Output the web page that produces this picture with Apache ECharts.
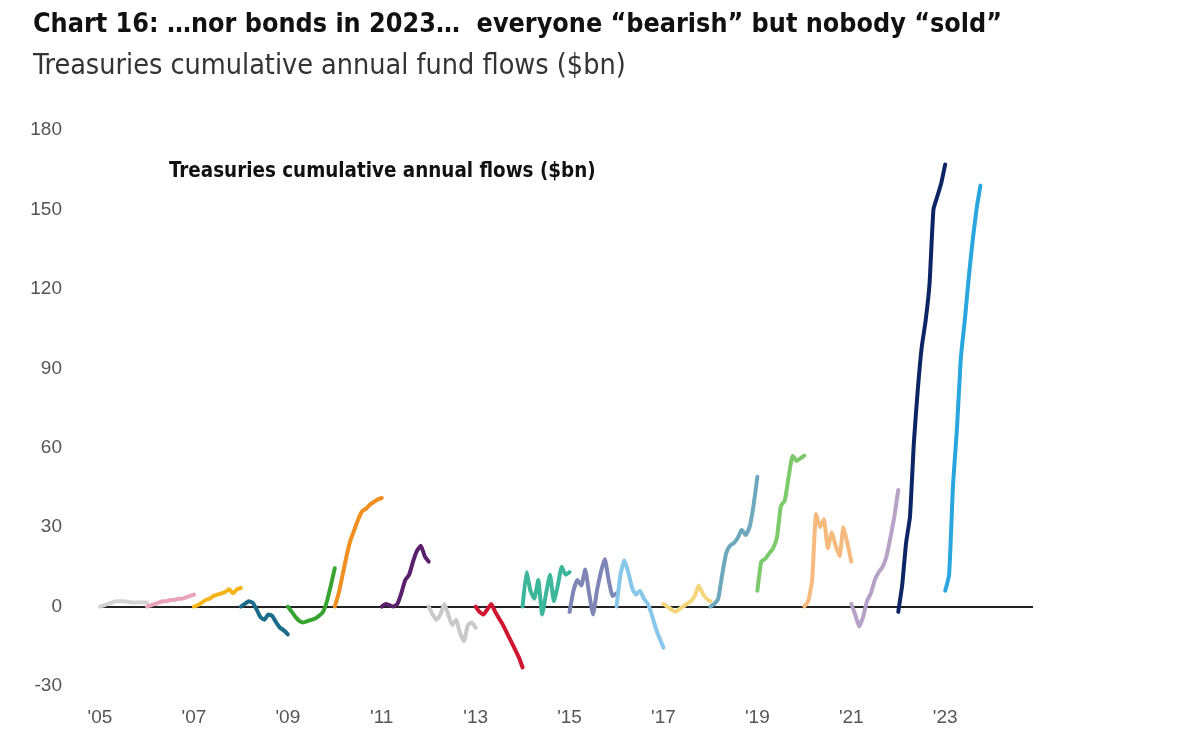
<!DOCTYPE html>
<html>
	<head>
		<meta charset="UTF-8">
		<title>Treasuries cumulative annual fund flows</title>
		<script src="https://cdn.jsdelivr.net/npm/echarts@6/dist/echarts.min.js"></script>
		<style>
			html, body { margin: 0; padding: 0; background: #fff; }
			#main { width: 1200px; height: 745px; }
		</style>
	</head>
	<body>
		<div id="main"></div>
		<script type="text/javascript">
			// cumulative flows within each calendar year, $bn, roughly monthly readings
			var flows2005 = [0, 0.5, 1, 1.5, 2, 2, 2, 1.8, 1.5, 1.5, 1.6, 1.5, 1.5];
			var flows2006 = [0, 0.5, 1, 1.5, 2, 2, 2.5, 2.5, 3, 3, 3.5, 4, 4.5];
			var flows2007 = [0, 0.5, 1.5, 2.5, 3, 4, 4.5, 5, 5.5, 6.5, 5, 6.5, 7];
			var flows2008 = [0, 1, 2, 1.5, -1, -4, -5, -3, -3.5, -6, -8, -9, -10.5];
			var flows2009 = [0, -2, -4, -5.5, -6, -5.5, -5, -4.5, -3.5, -2, 2, 8, 14.5];
			var flows2010 = [0, 5, 12, 19, 25, 29, 33, 36, 37, 38.5, 39.5, 40.5, 41];
			var flows2011 = [0, 1, 0.5, 0, 1, 5, 10, 12, 17, 21, 23, 19, 17];
			var flows2012 = [0, -3, -5, -3, 1, -3, -7, -5, -10, -13, -7, -6, -8];
			var flows2013 = [0, -2, -3, -1, 1, -2, -4.5, -7, -10, -13, -16, -19, -23];
			var flows2014 = [0, 13, 6, 3, 10, -3, 5, 12, 2, 8, 15, 12, 13];
			var flows2015 = [-2, 6, 10, 8, 14, 5, -3, 6, 13, 18, 10, 4, 5];
			var flows2016 = [0, 12, 17.5, 13, 7, 4.5, 6, 3, 1, -3, -8, -12, -15.5];
			var flows2017 = [1, 0, -1, -2, -1, 0, 1, 2, 4, 8, 5, 3, 2];
			var flows2018 = [0, 1, 3, 12, 20, 23, 24, 26, 29, 27, 30, 38, 49];
			var flows2019 = [6, 17, 18, 20, 22, 26, 38, 40, 49, 57, 55, 56, 57];
			var flows2020 = [0, 2, 10, 35, 30, 33, 22, 28, 23, 19, 30, 24, 17];
			var flows2021 = [1, -3, -7.5, -4, 2, 5, 10, 13, 15, 19, 26, 34, 44];
			var flows2022 = [-2, 8, 24, 34, 62, 82, 98, 108, 122, 150, 155, 160, 167];
			var flows2023 = [6, 12, 46, 67, 94, 108, 124, 138, 150, 159];

			var years = [2005, 2006, 2007, 2008, 2009, 2010, 2011, 2012, 2013, 2014,
				2015, 2016, 2017, 2018, 2019, 2020, 2021, 2022, 2023];
			var yearFlows = [flows2005, flows2006, flows2007, flows2008, flows2009, flows2010,
				flows2011, flows2012, flows2013, flows2014, flows2015, flows2016, flows2017,
				flows2018, flows2019, flows2020, flows2021, flows2022, flows2023];
			var yearColors = ['#d3d3d3', '#e9a3b8', '#f4b41a', '#1b6b8a', '#36a42f', '#ef8f1f',
				'#5a206c', '#c9c9c9', '#cf1630', '#3cb79b', '#7d86b6', '#86c7ea', '#f4d67c',
				'#6ea8bc', '#7dca6c', '#f7ba7e', '#b6a1c7', '#0c2665', '#29a6de'];
			var yTicks = [-30, 0, 30, 60, 90, 120, 150, 180];
			var xStart = 2005, xEnd = 2024.87;

			var myChart = echarts.init(document.getElementById('main'));

			var series = [];
			for (var i = 0; i < years.length; i++) {
				var pts = [];
				for (var m = 0; m < yearFlows[i].length; m++) {
					pts.push([years[i] + m / 12, yearFlows[i][m]]);
				}
				var s = {
					name: String(years[i]),
					type: 'line',
					data: pts,
					showSymbol: false,
					smooth: 0.15,
					z: 3,
					lineStyle: { color: yearColors[i], width: 4, cap: 'round', join: 'round' },
					itemStyle: { color: yearColors[i] },
					silent: true,
					animation: false
				};
				if (i === 0) {
					s.markLine = {
						silent: true,
						symbol: 'none',
						z: 1,
						label: { show: false },
						lineStyle: { color: '#222', width: 2, type: 'solid' },
						data: [{ yAxis: 0 }]
					};
				}
				series.push(s);
			}

			var titleFont = "'DejaVu Sans Condensed', 'Liberation Sans', sans-serif";

			var option = {
				backgroundColor: '#fff',
				animation: false,
				title: [{
					text: 'Chart 16: …nor bonds in 2023…  everyone “bearish” but nobody “sold”',
					left: 28,
					top: 7,
					textStyle: { fontFamily: titleFont, fontWeight: 'bold', fontSize: 26.7, color: '#111' }
				}, {
					text: 'Treasuries cumulative annual fund flows ($bn)',
					left: 28,
					top: 47,
					textStyle: { fontFamily: titleFont, fontWeight: 'normal', fontSize: 28.5, color: '#333' }
				}, {
					text: 'Treasuries cumulative annual flows ($bn)',
					left: 164,
					top: 157,
					textStyle: { fontFamily: titleFont, fontWeight: 'bold', fontSize: 20.4, color: '#111' }
				}],
				grid: { left: 100, right: 167, top: 130, bottom: 59 },
				xAxis: {
					type: 'value',
					min: xStart,
					max: xEnd,
					interval: 2,
					axisLine: { show: false },
					axisTick: { show: false },
					splitLine: { show: false },
					axisLabel: {
						margin: 22,
						fontFamily: 'Liberation Sans',
						fontSize: 19,
						color: '#555',
						showMaxLabel: false,
						formatter: function (v) {
							if (v % 1 !== 0) return '';
							return "'" + String(v).slice(2);
						}
					}
				},
				yAxis: {
					type: 'value',
					min: yTicks[0],
					max: yTicks[yTicks.length - 1],
					interval: 30,
					axisLine: { show: false },
					axisTick: { show: false },
					splitLine: { show: false },
					axisLabel: { margin: 38, fontFamily: 'Liberation Sans', fontSize: 19, color: '#555' }
				},
				series: series
			};

			myChart.setOption(option);
		</script>
	</body>
</html>
